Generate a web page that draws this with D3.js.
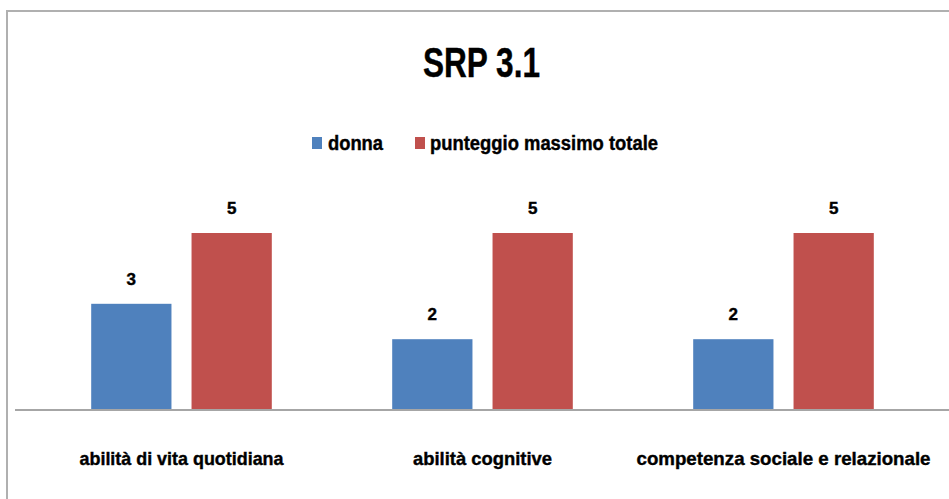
<!DOCTYPE html>
<html>
  <head>
    <meta charset="utf-8">
    <style>
      body { margin: 0; background: #fff; }
      .chart text {
        font-family: "Liberation Sans Narrow", "Liberation Sans", sans-serif;
        font-weight: bold;
        fill: #000;
        stroke: #000;
        stroke-width: 0.4px;
      }
    </style>
  </head>
  <body>
    <svg class="chart"></svg>

    <script src="https://d3js.org/d3.v7.min.js"></script>
    <script type="text/javascript">
      const title = "SRP 3.1";
      const categories = ["abilità di vita quotidiana", "abilità cognitive", "competenza sociale e relazionale"];
      const seriesNames = ["donna", "punteggio massimo totale"];
      const donna = [3, 2, 2];
      const punteggioMax = [5, 5, 5];

      (function() {
        const width = 949, height = 499;
        const colors = ["#4f81bd", "#c0504d"];
        const values = [donna, punteggioMax];
        // widths of the squeezed labels as measured on the reference
        const catWidths = [204, 139, 294];
        const legendWidths = [55, 228];

        const svg = d3.select(".chart")
          .attr("width", width)
          .attr("height", height);

        // chart frame (runs off the right and bottom edges)
        svg.append("rect")
          .attr("x", 7).attr("y", 11)
          .attr("width", width + 10).attr("height", height)
          .attr("fill", "#fff")
          .attr("stroke", "#b0b0b0")
          .attr("stroke-width", 2);

        svg.append("text")
          .attr("x", 423).attr("y", 77)
          .attr("font-size", 42)
          .attr("textLength", 117)
          .attr("lengthAdjust", "spacingAndGlyphs")
          .text(title);

        // legend
        const legendX = [312, 415];
        const legend = svg.selectAll(".legend")
          .data(seriesNames)
          .enter().append("g")
          .attr("transform", function(d, i) { return "translate(" + legendX[i] + ",137)"; });
        legend.append("rect")
          .attr("width", 10).attr("height", 12)
          .attr("fill", function(d, i) { return colors[i]; });
        legend.append("text")
          .attr("x", function(d, i) { return i === 0 ? 16 : 15; })
          .attr("y", 13)
          .attr("font-size", 20)
          .attr("textLength", function(d, i) { return legendWidths[i]; })
          .attr("lengthAdjust", "spacingAndGlyphs")
          .text(function(d) { return d; });

        const x0 = d3.scaleBand().domain(categories).range([31, 934])
          .paddingInner(0.4).paddingOuter(0.2);
        const x1 = d3.scaleBand().domain(seriesNames).range([0, x0.bandwidth()])
          .paddingInner(0.2).paddingOuter(0);
        const y = d3.scaleLinear().domain([0, 5]).range([410, 233]);

        const groups = svg.selectAll(".group")
          .data(categories)
          .enter().append("g")
          .attr("transform", function(d) { return "translate(" + x0(d) + ",0)"; });

        const bars = groups.selectAll(".bar")
          .data(function(d, ci) {
            return seriesNames.map(function(s, si) { return { s: s, si: si, v: values[si][ci] }; });
          })
          .enter().append("g");

        bars.append("rect")
          .attr("x", function(d) { return x1(d.s); })
          .attr("y", function(d) { return y(d.v); })
          .attr("width", x1.bandwidth())
          .attr("height", function(d) { return y(0) - y(d.v); })
          .attr("fill", function(d) { return colors[d.si]; });

        bars.append("text")
          .attr("x", function(d) { return x1(d.s) + x1.bandwidth() / 2; })
          .attr("y", function(d) { return y(d.v) - 19; })
          .attr("text-anchor", "middle")
          .attr("font-size", 17)
          .text(function(d) { return d.v; });

        // axis
        const xAxis = d3.axisBottom(x0).tickSize(0).tickPadding(0);
        const axisG = svg.append("g")
          .attr("transform", "translate(0," + y(0) + ")")
          .call(xAxis);
        axisG.select(".domain").remove();
        axisG.append("line")
          .attr("x1", 15).attr("x2", width)
          .attr("stroke", "#a6a6a6")
          .attr("stroke-width", 2);
        axisG.selectAll(".tick text")
          .attr("y", 55)
          .attr("dy", null)
          .attr("font-size", 19)
          .attr("fill", "#000")
          .attr("textLength", function(d, i) { return catWidths[i]; })
          .attr("lengthAdjust", "spacingAndGlyphs");
      })()
    </script>
  </body>
</html>
